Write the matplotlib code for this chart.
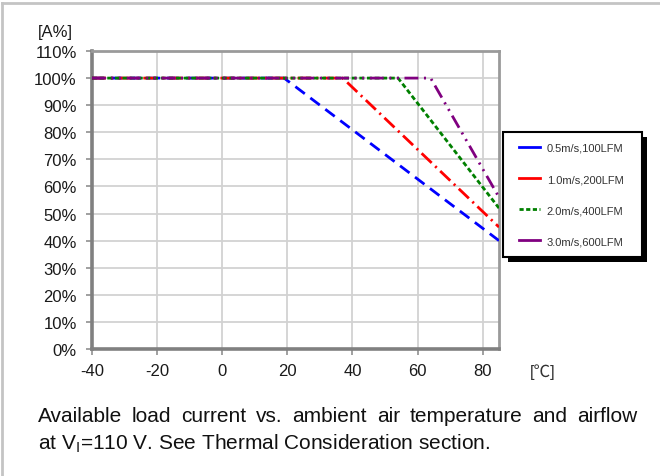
import matplotlib.pyplot as plt
from matplotlib.lines import Line2D
from matplotlib.patches import Rectangle
from matplotlib.ticker import FuncFormatter

plt.rcParams['font.family'] = ['Liberation Sans', 'DejaVu Sans']
plt.rcParams['lines.scale_dashes'] = False
plt.rcParams['axes.unicode_minus'] = False

# derating curves (ambient temperature in degC, load current in %)
temp_05 = [-40, 19, 85]
load_05 = [100, 100, 40]
temp_10 = [-40, 37, 85]
load_10 = [100, 100, 45]
temp_20 = [-40, 54, 85]
load_20 = [100, 100, 52]
temp_30 = [-40, 64, 85]
load_30 = [100, 100, 56]

labels = ['0.5m/s,100LFM', '1.0m/s,200LFM', '2.0m/s,400LFM', '3.0m/s,600LFM']
colors = ['#0000ff', '#ff0000', '#008000', '#800080']
x_ticks = [-40, -20, 0, 20, 40, 60, 80]
y_ticks = [0, 10, 20, 30, 40, 50, 60, 70, 80, 90, 100, 110]

W, H = 660, 477
fig = plt.figure(figsize=(W / 100, H / 100), dpi=100)
ax = fig.add_axes([92 / W, 1 - 350 / H, 407 / W, 298 / H])

lw = 2.0
ax.plot(temp_05, load_05, color=colors[0], lw=lw, dashes=(8.5, 5), zorder=3)
ax.plot(temp_10, load_10, color=colors[1], lw=lw, dashes=(10, 3.5, 1.5, 3.5), zorder=4)
ax.plot(temp_20, load_20, color=colors[2], lw=lw, dashes=(3.5, 2), zorder=5)
ax.plot(temp_30, load_30, color=colors[3], lw=lw,
        dashes=(10, 4, 1.5, 4, 1.5, 4), zorder=6)

ax.set_xlim(-40, 85)
ax.set_ylim(0, 110)
ax.set_xticks(x_ticks)
ax.set_yticks(y_ticks)
ax.yaxis.set_major_formatter(FuncFormatter(lambda v, p: '%d%%' % v))
ax.grid(True, color='#d2d2d2', lw=1.3, zorder=0)
ax.tick_params(axis='both', length=4, width=1.2, color='#909090',
               labelsize=12, labelcolor='#1a1a1a')
ax.tick_params(axis='x', pad=6)
ax.tick_params(axis='y', pad=7)
for side in ['top', 'right']:
    ax.spines[side].set_color('#9a9a9a')
    ax.spines[side].set_linewidth(2.0)
for side in ['left', 'bottom']:
    ax.spines[side].set_color('#808080')
    ax.spines[side].set_linewidth(2.6)

# legend box drawn by hand (black drop shadow on right and bottom)
bx0, by0, bx1, by1 = 503, 133, 642, 258
fig.add_artist(Rectangle((bx0 / W + 5 / W, 1 - by1 / H - 5 / H),
                         (bx1 - bx0) / W, (by1 - by0) / H,
                         transform=fig.transFigure, facecolor='black',
                         edgecolor='none', zorder=8))
fig.add_artist(Rectangle((bx0 / W, 1 - by1 / H), (bx1 - bx0) / W, (by1 - by0) / H,
                         transform=fig.transFigure, facecolor='white',
                         edgecolor='black', lw=1.5, zorder=9))

handles = [
    Line2D([], [], color=colors[0], lw=2),
    Line2D([], [], color=colors[1], lw=2),
    Line2D([], [], color=colors[2], lw=2, dashes=(3, 1.8)),
    Line2D([], [], color=colors[3], lw=2),
]
leg = fig.legend(handles, labels, loc='upper left',
                 bbox_to_anchor=(519 / W, 1 - 144 / H),
                 fontsize=8, frameon=False,
                 handlelength=1.9, handletextpad=0.6,
                 labelspacing=1.9, borderpad=0, borderaxespad=0)
leg.set_zorder(10)
for t in leg.get_texts():
    t.set_color('#333333')

fig.text(38 / W, 1 - 33 / H, '[A%]', fontsize=12, color='#1a1a1a',
         va='center', ha='left')
fig.text(530 / W, 1 - 372 / H, '[℃]', fontsize=12, color='#333333',
         va='center', ha='left', family=['Liberation Sans', 'Noto Sans CJK JP'])

# caption, first line justified
renderer = fig.canvas.get_renderer()
words = 'Available load current vs. ambient air temperature and airflow'.split()
x0, x1 = 38, 637
objs = [fig.text(0, 1 - 422 / H, w, fontsize=15, color='#111111',
                 va='baseline', ha='left') for w in words]
widths = [o.get_window_extent(renderer).width for o in objs]
gap = (x1 - x0 - sum(widths)) / (len(words) - 1)
x = x0
for o, w in zip(objs, widths):
    o.set_x(x / W)
    x += w + gap
fig.text(x0 / W, 1 - 449 / H,
         r'at V$_\mathregular{I}$=110 V. See Thermal Consideration section.',
         fontsize=15, color='#111111', va='baseline', ha='left')

# outer page frame
fig.add_artist(Line2D([2 / W, 1], [1 - 4 / H, 1 - 4 / H],
                      transform=fig.transFigure, color='#c4c4c4', lw=2))
fig.add_artist(Line2D([2 / W, 2 / W], [0, 1 - 4 / H],
                      transform=fig.transFigure, color='#c4c4c4', lw=2))

fig.savefig('out.png', dpi=100)
